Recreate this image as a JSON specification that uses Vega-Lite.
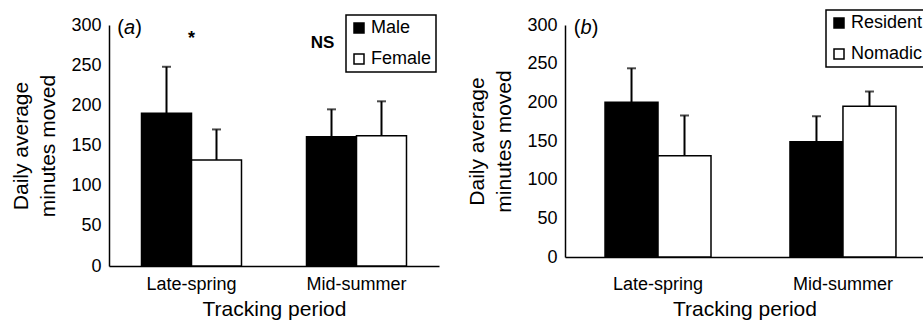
{
  "$schema": "https://vega.github.io/schema/vega-lite/v6.json",
  "padding": {"left": 10, "top": 9, "right": 1, "bottom": 2},
  "spacing": 27,
  "config": {
    "view": {"stroke": null},
    "font": "Liberation Sans",
    "axis": {
      "domainColor": "black", "domainWidth": 1.5, "ticks": false, "tickSize": 0, "grid": false, "labelOverlap": false,
      "labelFont": "Liberation Sans", "labelFontSize": 18, "labelColor": "black",
      "titleFont": "Liberation Sans", "titleFontSize": 21, "titleFontWeight": "normal", "titleColor": "black", "titleLineHeight": 27
    },
    "axisY": {"tickCount": 7, "labelOverlap": false, "labelSeparation": 0},
    "legend": {
      "orient": "none", "title": null, "symbolType": "square", "symbolSize": 100,
      "symbolStrokeColor": "black", "symbolStrokeWidth": 1.5,
      "labelFont": "Liberation Sans", "labelFontSize": 18, "labelColor": "black", "labelOffset": 3,
      "strokeColor": "black", "fillColor": "white", "padding": 4, "rowPadding": 13, "strokeWidth": 1.5
    }
  },
  "datasets": {
    "sex": [
      {"period": "Late-spring", "sex": "Male", "mean": 190, "upper": 248},
      {"period": "Late-spring", "sex": "Female", "mean": 132, "upper": 170},
      {"period": "Mid-summer", "sex": "Male", "mean": 161, "upper": 195},
      {"period": "Mid-summer", "sex": "Female", "mean": 162, "upper": 205}
    ],
    "move": [
      {"period": "Late-spring", "group": "Resident", "mean": 200, "upper": 244},
      {"period": "Late-spring", "group": "Nomadic", "mean": 131, "upper": 183},
      {"period": "Mid-summer", "group": "Resident", "mean": 149, "upper": 182},
      {"period": "Mid-summer", "group": "Nomadic", "mean": 195, "upper": 214}
    ]
  },
  "hconcat": [
    {
      "width": 330,
      "height": 241,
      "layer": [
        {
          "data": {"name": "sex"},
          "mark": {"type": "bar", "stroke": "black", "strokeWidth": 1.5},
          "encoding": {
            "x": {"field": "period", "type": "nominal", "sort": ["Late-spring", "Mid-summer"], "scale": {"paddingInner": 0.394, "paddingOuter": 0.197}, "axis": {"labelAngle": 0, "labelPadding": 9, "titlePadding": 5}, "title": "Tracking period"},
            "xOffset": {"field": "sex", "type": "nominal", "scale": {"domain": ["Male", "Female"], "paddingInner": 0, "paddingOuter": 0}},
            "y": {"field": "mean", "type": "quantitative", "scale": {"domain": [0, 300], "nice": false}, "axis": {"values": [0, 50, 100, 150, 200, 250, 300], "labelOverlap": false, "labelPadding": 8, "titlePadding": 12}, "title": ["Daily average", "minutes moved"]},
            "fill": {"field": "sex", "type": "nominal", "scale": {"domain": ["Male", "Female"], "range": ["black", "white"]}, "legend": {"legendX": 237, "legendY": -10}}
          }
        },
        {
          "data": {"name": "sex"},
          "mark": {"type": "rule", "color": "black", "strokeWidth": 2},
          "encoding": {
            "x": {"field": "period", "type": "nominal", "sort": ["Late-spring", "Mid-summer"]},
            "xOffset": {"field": "sex", "type": "nominal"},
            "y": {"field": "mean", "type": "quantitative", "axis": {"values": [0, 50, 100, 150, 200, 250, 300], "labelOverlap": false}, "title": ["Daily average", "minutes moved"]},
            "y2": {"field": "upper"}
          }
        },
        {
          "data": {"name": "sex"},
          "mark": {"type": "tick", "color": "black", "size": 9, "thickness": 2},
          "encoding": {
            "x": {"field": "period", "type": "nominal", "sort": ["Late-spring", "Mid-summer"]},
            "xOffset": {"field": "sex", "type": "nominal"},
            "y": {"field": "upper", "type": "quantitative", "axis": {"values": [0, 50, 100, 150, 200, 250, 300], "labelOverlap": false}, "title": ["Daily average", "minutes moved"]}
          }
        },
        {
          "data": {"values": [{"label": "*"}]},
          "mark": {"type": "text", "font": "Liberation Sans", "fontSize": 18, "fontWeight": "bold", "color": "black"},
          "encoding": {"x": {"datum": "Late-spring"}, "y": {"datum": 283}, "text": {"field": "label"}}
        },
        {
          "data": {"values": [{"label": "NS"}]},
          "mark": {"type": "text", "font": "Liberation Sans", "fontSize": 17, "fontWeight": "bold", "color": "black", "dx": -9},
          "encoding": {"x": {"datum": "Mid-summer"}, "xOffset": {"datum": "Male"}, "y": {"datum": 277}, "text": {"field": "label"}}
        },
        {
          "data": {"values": [{"label": "("}]},
          "mark": {"type": "text", "font": "Liberation Sans", "fontSize": 20, "color": "black", "dx": -71},
          "encoding": {"x": {"datum": "Late-spring"}, "y": {"datum": 296}, "text": {"field": "label"}}
        },
        {
          "data": {"values": [{"label": "a"}]},
          "mark": {"type": "text", "font": "Liberation Sans", "fontSize": 20, "fontStyle": "italic", "color": "black", "dx": -62},
          "encoding": {"x": {"datum": "Late-spring"}, "y": {"datum": 296}, "text": {"field": "label"}}
        },
        {
          "data": {"values": [{"label": ")"}]},
          "mark": {"type": "text", "font": "Liberation Sans", "fontSize": 20, "color": "black", "dx": -53},
          "encoding": {"x": {"datum": "Late-spring"}, "y": {"datum": 296}, "text": {"field": "label"}}
        }
      ]
    },
    {
      "width": 359,
      "height": 232,
      "layer": [
        {
          "data": {"name": "move"},
          "mark": {"type": "bar", "stroke": "black", "strokeWidth": 1.5},
          "encoding": {
            "x": {"field": "period", "type": "nominal", "sort": ["Late-spring", "Mid-summer"], "scale": {"paddingInner": 0.427, "paddingOuter": 0.184, "align": 0.588}, "axis": {"labelAngle": 0, "labelPadding": 18, "titlePadding": 5}, "title": "Tracking period"},
            "xOffset": {"field": "group", "type": "nominal", "scale": {"domain": ["Resident", "Nomadic"], "paddingInner": 0, "paddingOuter": 0}},
            "y": {"field": "mean", "type": "quantitative", "scale": {"domain": [0, 300], "nice": false}, "axis": {"values": [0, 50, 100, 150, 200, 250, 300], "tickCount": 7, "labelOverlap": false, "labelPadding": 8, "titlePadding": 12}, "title": ["Daily average", "minutes moved"]},
            "fill": {"field": "group", "type": "nominal", "scale": {"domain": ["Resident", "Nomadic"], "range": ["black", "white"]}, "legend": {"legendX": 261, "legendY": -15}}
          }
        },
        {
          "data": {"name": "move"},
          "mark": {"type": "rule", "color": "black", "strokeWidth": 2},
          "encoding": {
            "x": {"field": "period", "type": "nominal", "sort": ["Late-spring", "Mid-summer"]},
            "xOffset": {"field": "group", "type": "nominal"},
            "y": {"field": "mean", "type": "quantitative", "axis": {"values": [0, 50, 100, 150, 200, 250, 300], "tickCount": 7, "labelOverlap": false}, "title": ["Daily average", "minutes moved"]},
            "y2": {"field": "upper"}
          }
        },
        {
          "data": {"name": "move"},
          "mark": {"type": "tick", "color": "black", "size": 9, "thickness": 2},
          "encoding": {
            "x": {"field": "period", "type": "nominal", "sort": ["Late-spring", "Mid-summer"]},
            "xOffset": {"field": "group", "type": "nominal"},
            "y": {"field": "upper", "type": "quantitative", "axis": {"values": [0, 50, 100, 150, 200, 250, 300], "tickCount": 7, "labelOverlap": false}, "title": ["Daily average", "minutes moved"]}
          }
        },
        {
          "data": {"values": [{"label": "("}]},
          "mark": {"type": "text", "font": "Liberation Sans", "fontSize": 20, "color": "black", "dx": -81},
          "encoding": {"x": {"datum": "Late-spring"}, "y": {"datum": 296}, "text": {"field": "label"}}
        },
        {
          "data": {"values": [{"label": "b"}]},
          "mark": {"type": "text", "font": "Liberation Sans", "fontSize": 20, "fontStyle": "italic", "color": "black", "dx": -72},
          "encoding": {"x": {"datum": "Late-spring"}, "y": {"datum": 296}, "text": {"field": "label"}}
        },
        {
          "data": {"values": [{"label": ")"}]},
          "mark": {"type": "text", "font": "Liberation Sans", "fontSize": 20, "color": "black", "dx": -63},
          "encoding": {"x": {"datum": "Late-spring"}, "y": {"datum": 296}, "text": {"field": "label"}}
        }
      ]
    }
  ],
  "resolve": {"scale": {"fill": "independent", "xOffset": "independent"}, "legend": {"fill": "independent"}}
}
